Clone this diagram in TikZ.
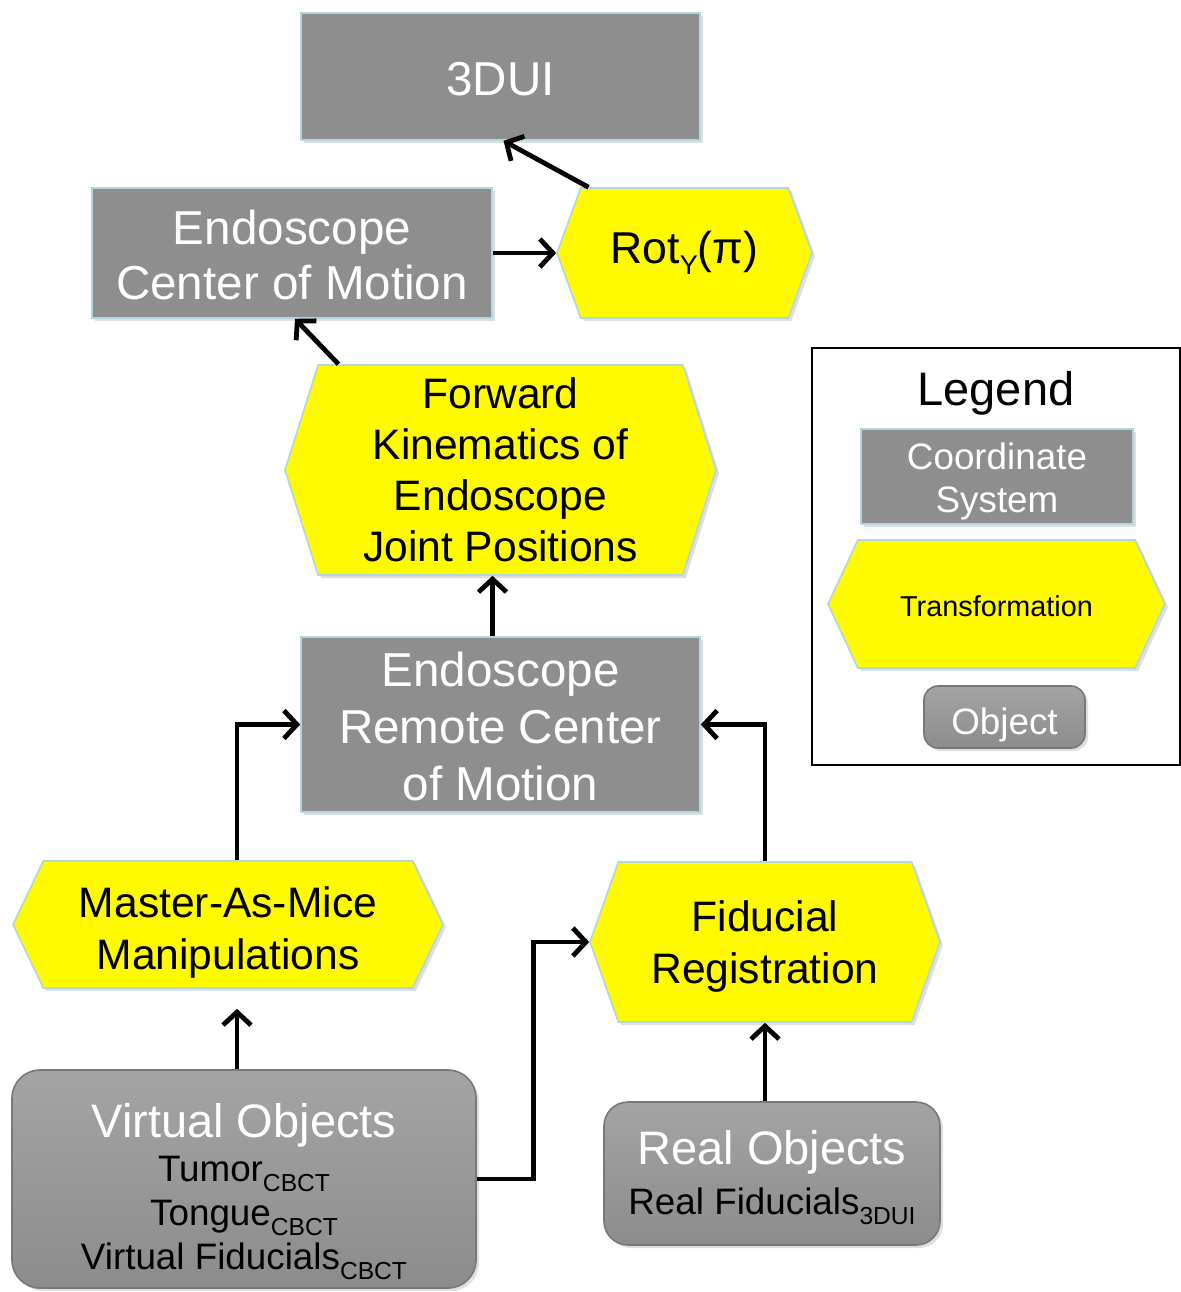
\documentclass[tikz,border=0pt]{standalone}
\usepackage{fontspec}
\setmainfont{Liberation Sans}
\usetikzlibrary{shapes.symbols,shadows,arrows.meta}
\definecolor{boxgray}{RGB}{142,142,142}
\definecolor{hexyel}{RGB}{255,250,0}
\definecolor{edgeblue}{RGB}{176,214,222}
\definecolor{objtop}{RGB}{164,164,164}
\definecolor{objbot}{RGB}{140,140,140}
\definecolor{objedge}{RGB}{120,120,120}
\newcommand{\sbs}[2]{\raisebox{-#1}{\fontsize{12.3}{12.3}\selectfont #2}}
\newcommand{\topstrut}[1]{\rule{0pt}{#1}}
\begin{document}
\begin{tikzpicture}[x=0.5pt,y=-0.5pt,
  shd/.style={drop shadow={opacity=0.25,shadow xshift=1.5pt,shadow yshift=-1.5pt}},
  csys/.style={rectangle, fill=boxgray, draw=edgeblue, line width=0.8pt, text=white,
    font=\fontsize{23.8}{27.5}\selectfont, align=center, inner sep=0pt, shd},
  tform/.style={signal, signal to=east and west, fill=hexyel, draw=edgeblue, line width=0.8pt,
    text=black, font=\fontsize{21.3}{25.5}\selectfont, align=center, inner sep=0pt, shd},
  obj/.style={rectangle, rounded corners=14pt, top color=objtop, bottom color=objbot,
    draw=objedge, line width=0.8pt, align=center, inner sep=0pt, shd},
  conn/.style={line width=2.4pt, -{Straight Barb[length=6.5pt,width=14pt,line width=2.4pt]}}
]
\useasboundingbox (0,0) rectangle (1181,1292);

% coordinate systems
\node[csys, minimum width=199.5pt, minimum height=63.5pt] (du) at (500.5,76.5) {\topstrut{19pt}3DUI};
\node[csys, minimum width=200pt, minimum height=65pt] (ecm) at (292,253) {\topstrut{19pt}Endoscope\\Center of Motion};
\node[csys, minimum width=199.5pt, minimum height=87.5pt, font=\fontsize{23.8}{28.5}\selectfont] (ercm) at (500.5,724.5) {\topstrut{19pt}Endoscope\\Remote Center\\of Motion};

% transformations
\node[tform, minimum width=127.5pt, minimum height=65pt, signal pointer angle=140, font=\fontsize{22.3}{25}\selectfont] (rot) at (684.5,253)
  {Rot\raisebox{-5.5pt}{\fontsize{13.5}{13.5}\selectfont Y}(π)};
\node[tform, minimum width=215.5pt, minimum height=105pt, signal pointer angle=145] (fk) at (500.5,470)
  {Forward\\Kinematics of\\Endoscope\\Joint Positions};
\node[tform, minimum width=215pt, minimum height=63.5pt, signal pointer angle=129, font=\fontsize{21.3}{26}\selectfont] (mam) at (228,924.5)
  {\topstrut{23pt}Master-As-Mice\\Manipulations};
\node[tform, minimum width=175pt, minimum height=80pt, signal pointer angle=141, font=\fontsize{21.3}{26}\selectfont] (fid) at (765,942)
  {\topstrut{20pt}Fiducial\\Registration};

% objects
\node[obj, minimum width=232pt, minimum height=109pt, font=\fontsize{18.4}{22}\selectfont] (vo) at (244,1179)
  {{\color{white}\fontsize{23.5}{27}\selectfont\topstrut{30pt}Virtual Objects}\\
   Tumor\sbs{5pt}{CBCT}\\
   Tongue\sbs{5pt}{CBCT}\\
   Virtual Fiducials\sbs{5pt}{CBCT}};
\node[obj, minimum width=168pt, minimum height=71.5pt, font=\fontsize{18.4}{25}\selectfont, rounded corners=12pt] (ro) at (772,1173.5)
  {{\color{white}\fontsize{23.5}{27}\selectfont\topstrut{21.5pt}Real Objects}\\
   Real Fiducials\sbs{5pt}{3DUI}};

% legend
\node[draw=black, line width=0.8pt, minimum width=184pt, minimum height=208.5pt, inner sep=0pt] (leg) at (996,556.5) {};
\node[font=\fontsize{23.5}{27}\selectfont] (legt) at (996,393) {Legend};
\node[csys, minimum width=136pt, minimum height=47.5pt, font=\fontsize{18.4}{21.5}\selectfont] (lcs) at (997,476.5) {\topstrut{18.5pt}Coordinate\\System};
\node[tform, minimum width=168.5pt, minimum height=64pt, signal pointer angle=130, font=\fontsize{14.4}{17}\selectfont] (ltr) at (996.5,604) {\topstrut{12.5pt}Transformation};
\node[obj, minimum width=80.5pt, minimum height=31pt, rounded corners=7pt, text=white, font=\fontsize{18.4}{21}\selectfont] (lob) at (1004.5,717) {\topstrut{21.5pt}Object};

% connectors
\draw[conn] ([xshift=-48pt]rot.north) -- ([xshift=1.5pt]du.south);
\draw[conn] (ecm.east) -- (rot.west);
\draw[conn] ([xshift=-81pt]fk.north) -- ([xshift=1.5pt]ecm.south);
\draw[conn] ([xshift=-4pt]ercm.north) -- ([xshift=-4pt]fk.south);
\draw[conn] ([xshift=4.5pt]mam.north) |- (ercm.west);
\draw[conn] (fid.north) |- (ercm.east);
\draw[conn, shorten >=10pt] ([xshift=-3.5pt]vo.north) -- ([xshift=4.5pt]mam.south);
\draw[conn] (vo.east) -- ++(28.5pt,0) |- (fid.west);
\draw[conn] (ro.north -| fid.south) -- (fid.south);
\end{tikzpicture}
\end{document}
